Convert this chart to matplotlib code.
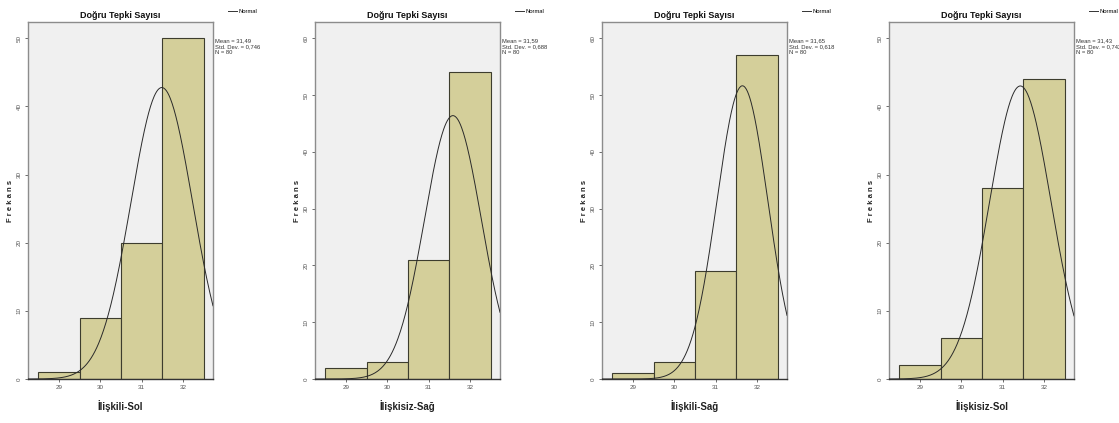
import numpy as np
import matplotlib
matplotlib.use("Agg")
import matplotlib.pyplot as plt
from matplotlib.lines import Line2D

# ---- data ----
bin_centers = [29, 30, 31, 32]
counts_iliskili_sol = [1, 9, 20, 50]
counts_iliskisiz_sag = [2, 3, 21, 54]
counts_iliskili_sag = [1, 3, 19, 57]
counts_iliskisiz_sol = [2, 6, 28, 44]
xlabels = ["İlişkili-Sol", "İlişkisiz-Sağ", "İlişkili-Sağ", "İlişkisiz-Sol"]
means = [31.49, 31.59, 31.65, 31.43]
sds = [0.746, 0.688, 0.618, 0.742]
n_obs = [80, 80, 80, 80]
mean_labels = ["31,49", "31,59", "31,65", "31,43"]
sd_labels = ["0,746", "0,688", "0,618", "0,742"]
yticks_list = [[0, 10, 20, 30, 40, 50], [0, 10, 20, 30, 40, 50, 60],
               [0, 10, 20, 30, 40, 50, 60], [0, 10, 20, 30, 40, 50]]
title = "Doğru Tepki Sayısı"
all_counts = [counts_iliskili_sol, counts_iliskisiz_sag, counts_iliskili_sag, counts_iliskisiz_sol]

W, H = 1119, 423
fig = plt.figure(figsize=(W / 100, H / 100), dpi=100)
plt.rcParams['font.family'] = ['Liberation Sans', 'DejaVu Sans']

lefts = [28, 315, 602, 889]
ax_w, top_px, bot_px = 185, 22, 379
fill = "#D4CF9A"
bg = "#F0F0F0"

for i in range(4):
    ax = fig.add_axes([lefts[i] / W, 1 - bot_px / H, ax_w / W, (bot_px - top_px) / H])
    ax.set_facecolor(bg)
    ax.bar(bin_centers, all_counts[i], width=1.0, color=fill, edgecolor="#3d3d2e", linewidth=0.8, zorder=2)
    xs = np.linspace(28.25, 32.73, 300)
    ys = n_obs[i] * 1.0 / (sds[i] * np.sqrt(2 * np.pi)) * np.exp(-0.5 * ((xs - means[i]) / sds[i]) ** 2)
    ax.plot(xs, ys, color="#2a2a2a", linewidth=0.7, zorder=3)
    ax.set_xlim(28.25, 32.73)
    top = max(yticks_list[i]) * 1.048
    ax.set_ylim(0, top)
    ax.set_xticks(bin_centers)
    ax.set_xticklabels([str(v) for v in bin_centers], fontsize=4.5, color="#333333")
    ax.set_yticks(yticks_list[i])
    ax.set_yticklabels([str(v) for v in yticks_list[i]], fontsize=4.5, rotation=90, va="center", color="#333333")
    ax.tick_params(axis="both", length=2.5, width=0.6, pad=2, colors="#555555")
    for s in ["left", "top", "right"]:
        ax.spines[s].set_color("#8c8c8c")
        ax.spines[s].set_linewidth(1.0)
    ax.spines["bottom"].set_color("#333333")
    ax.spines["bottom"].set_linewidth(1.0)
    ax.set_title(title, fontsize=6.5, pad=3, color="#111111", fontweight="bold")
    ax.set_xlabel(xlabels[i], fontsize=7, fontweight="bold", labelpad=7, color="#222222")
    ax.set_ylabel("F r e k a n s", fontsize=5.5, fontweight="bold", labelpad=2, color="#222222")
    ax.text(1.01, 0.955, f"Mean = {mean_labels[i]}\nStd. Dev. = {sd_labels[i]}\nN = {n_obs[i]}",
            transform=ax.transAxes, fontsize=4.2, va="top", ha="left", color="#333333", linespacing=1.2)
    h = [Line2D([], [], color="#333333", linewidth=0.7)]
    ax.legend(h, ["Normal"], loc="center left", bbox_to_anchor=(1.08, 1.03), frameon=False,
              handlelength=1.5, handletextpad=0.3, borderpad=0, borderaxespad=0,
              prop={"size": 4.2})

fig.savefig("out.png", dpi=100, facecolor="white")
